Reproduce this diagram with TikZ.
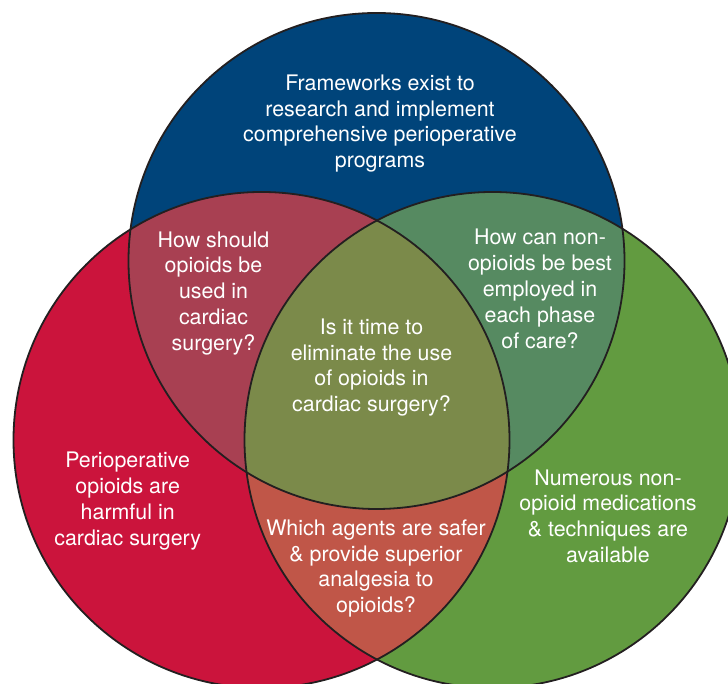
\documentclass[tikz,border=0pt]{standalone}
\usepackage{fontspec}
\setmainfont{TeX Gyre Heros}
\definecolor{blueC}{HTML}{00447A}
\definecolor{redC}{HTML}{CB143C}
\definecolor{greenC}{HTML}{629B40}
\definecolor{redblueC}{HTML}{A84052}
\definecolor{bluegreenC}{HTML}{568A61}
\definecolor{redgreenC}{HTML}{C05648}
\definecolor{centreC}{HTML}{7B8A4A}
\definecolor{ringC}{HTML}{231F20}
\begin{document}
\begin{tikzpicture}[x=1pt,y=1pt,
  vennlabel/.style={text=white, align=center, inner sep=0pt,
    font=\fontsize{21.4}{25.8}\selectfont},
  ring/.style={draw=ringC, line width=1.8pt},
  disc/.style={radius=248}]
% page frame; the circles run past its lower and right edges
\clip (0,0) rectangle (728,684);
\coordinate (B) at (376.5,423);
\coordinate (R) at (261.5,244);
\coordinate (G) at (492.5,244);
% base discs
\fill[blueC]  (B) circle[disc];
\fill[redC]   (R) circle[disc];
\fill[greenC] (G) circle[disc];
% pairwise overlaps
\begin{scope}
  \clip (B) circle[disc];
  \fill[redblueC] (R) circle[disc];
\end{scope}
\begin{scope}
  \clip (B) circle[disc];
  \fill[bluegreenC] (G) circle[disc];
\end{scope}
\begin{scope}
  \clip (R) circle[disc];
  \fill[redgreenC] (G) circle[disc];
\end{scope}
% triple overlap
\begin{scope}
  \clip (B) circle[disc];
  \clip (R) circle[disc];
  \fill[centreC] (G) circle[disc];
\end{scope}
% outlines
\draw[ring] (B) circle[disc];
\draw[ring] (R) circle[disc];
\draw[ring] (G) circle[disc];
% labels
\node[vennlabel] (tBlue) at (380,560.5)
  {Frameworks exist to\\research and implement\\comprehensive perioperative\\programs};
\node[vennlabel] (tRedBlue) at (213.5,390.7)
  {How should\\opioids be\\used in\\cardiac\\surgery?};
\node[vennlabel] (tBlueGreen) at (540,395.1)
  {How can non-\\opioids be best\\employed in\\each phase\\of care?};
\node[vennlabel] (tCentre) at (371.5,316.5)
  {Is it time to\\eliminate the use\\of opioids in\\cardiac surgery?};
\node[vennlabel] (tRed) at (127.7,183.1)
  {Perioperative\\opioids are\\harmful in\\cardiac surgery};
\node[vennlabel] (tRedGreen) at (376,115.5)
  {Which agents are safer\\\& provide superior\\analgesia to\\opioids?};
\node[vennlabel] (tGreen) at (608,167.8)
  {Numerous non-\\opioid medications\\\& techniques are\\available};
\end{tikzpicture}
\end{document}
